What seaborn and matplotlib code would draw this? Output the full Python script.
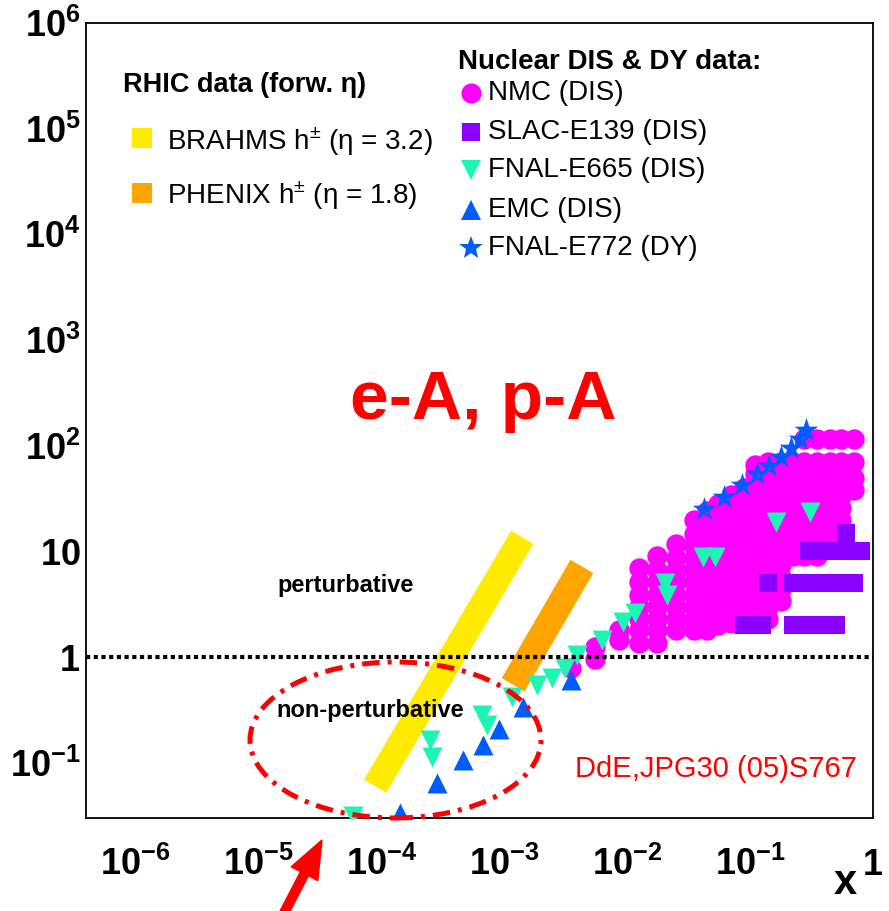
import numpy as np
import pandas as pd
import matplotlib
matplotlib.use("Agg")
import matplotlib.pyplot as plt
import seaborn as sns
from matplotlib import font_manager as fm
from matplotlib.patches import Ellipse, FancyArrow, Rectangle
from matplotlib.transforms import IdentityTransform
from matplotlib.ticker import FixedLocator, FixedFormatter, LogLocator, NullFormatter

# ---------------- data ----------------
# NMC (DIS): x bins and Q^2 values per bin
nmc_x = [0.0035, 0.0055, 0.0085, 0.0125, 0.0175, 0.025, 0.035, 0.045, 0.055,
         0.07, 0.09, 0.11, 0.14, 0.18, 0.225, 0.275, 0.35, 0.45, 0.55, 0.70]
nmc_q2 = [
    [0.78],
    [0.95, 1.25],
    [1.45, 1.8],
    [1.36, 1.8, 2.3, 3.0, 3.9, 5.1, 7.0],
    [1.36, 1.8, 2.3, 3.0, 3.9, 5.1, 6.7, 9.0],
    [1.8, 2.3, 3.0, 3.9, 5.1, 6.7, 8.7, 11.8],
    [1.8, 2.3, 3.0, 3.9, 5.1, 6.7, 8.7, 11.3, 14.7, 20],
    [1.8, 2.3, 3.0, 3.9, 5.1, 6.7, 8.7, 11.3, 14.7, 19, 24],
    [2.0, 2.6, 3.4, 4.4, 5.7, 7.4, 9.6, 12.5, 16, 21, 28],
    [2.1, 2.8, 3.6, 4.7, 6.1, 7.9, 10.3, 13.4, 17.4, 22.6, 29, 34],
    [2.2, 2.9, 3.8, 4.9, 6.4, 8.3, 10.8, 14, 18.2, 23.7, 31, 40],
    [2.3, 3.0, 3.9, 5.1, 6.7, 8.7, 11.3, 14.7, 19, 25, 32, 42, 54, 65],
    [2.3, 3.0, 3.9, 5.1, 6.7, 8.7, 11.3, 14.7, 19, 25, 32, 42, 54, 70],
    [3.4, 4.4, 5.7, 7.4, 9.6, 12.5, 16, 21, 28, 36, 47, 61, 70],
    [9, 11.7, 15, 20, 26, 34, 44, 57, 70],
    [9, 11.7, 15, 20, 26, 34, 44, 57, 70, 115],
    [9, 11.7, 15, 20, 26, 34, 44, 57, 70, 115],
    [12.8, 16.6, 21.6, 28, 36, 47, 61, 70, 115],
    [19.8, 25.7, 33.4, 43, 56, 70, 115],
    [38, 49, 70, 115],
]

# SLAC-E139 (DIS)
slac_x = [0.089, 0.125, 0.225, 0.275, 0.35, 0.42, 0.5,
          0.14, 0.225, 0.275, 0.35, 0.45, 0.55, 0.7,
          0.3, 0.35, 0.45, 0.55, 0.7, 0.8,
          0.6]
slac_q2 = [2, 2, 2, 2, 2, 2, 2,
           5, 5, 5, 5, 5, 5, 5,
           10, 10, 10, 10, 10, 10,
           15]

# FNAL-E665 (DIS)
e665_x = [5.9e-5, 2.49e-4, 2.58e-4, 6.59e-4, 7.24e-4, 1.16e-3, 1.85e-3, 2.45e-3,
          3.13e-3, 3.91e-3, 6.25e-3, 9.27e-3, 0.0116, 0.0203, 0.0211, 0.0415,
          0.0519, 0.163, 0.308]
e665_q2 = [0.031, 0.164, 0.113, 0.283, 0.227, 0.418, 0.543, 0.633,
           0.787, 1.04, 1.45, 2.14, 2.61, 5.01, 3.86, 8.83,
           8.83, 18.9, 23.5]

# EMC (DIS)
emc_x = [1.42e-4, 2.84e-4, 4.62e-4, 6.71e-4, 9.08e-4, 1.42e-3, 3.5e-3]
emc_q2 = [0.0334, 0.0643, 0.106, 0.147, 0.208, 0.336, 0.606]

# FNAL-E772 (DY)
e772_x = [0.0423, 0.0614, 0.0861, 0.114, 0.143, 0.179, 0.216, 0.255, 0.286]
e772_q2 = [25.1, 32.6, 42.4, 53.9, 64.1, 78.0, 94.9, 115, 140]

# RHIC bands (x, Q^2 end points)
brahms_x = [8.9e-5, 1.4e-3]
brahms_q2 = [0.06, 13.6]
phenix_x = [1.18e-3, 4.28e-3]
phenix_q2 = [0.547, 7.2]

x_ticks = [1e-6, 1e-5, 1e-4, 1e-3, 1e-2, 1e-1, 1]
x_ticklabels = [r"$\mathbf{10^{-6}}$", r"$\mathbf{10^{-5}}$", r"$\mathbf{10^{-4}}$",
                r"$\mathbf{10^{-3}}$", r"$\mathbf{10^{-2}}$", r"$\mathbf{10^{-1}}$",
                r"$\mathbf{1}$"]
y_ticks = [1e-1, 1, 10, 1e2, 1e3, 1e4, 1e5, 1e6]
y_ticklabels = [r"$\mathbf{10^{-1}}$", r"$\mathbf{1}$", r"$\mathbf{10}$",
                r"$\mathbf{10^{2}}$", r"$\mathbf{10^{3}}$", r"$\mathbf{10^{4}}$",
                r"$\mathbf{10^{5}}$", r"$\mathbf{10^{6}}$"]

# ---------------- colours ----------------
C_NMC = "#FF00FF"
C_SLAC = "#8C00FF"
C_E665 = "#1EF5B4"
C_BLUE = "#005CFF"
C_BRAHMS = "#FFEB00"
C_PHENIX = "#FFA500"

# ---------------- style ----------------
sns.set_style("white")
installed = {f.name for f in fm.fontManager.ttflist}
if "Liberation Sans Narrow" in installed:
    TICKFONT, TICKSIZE = "Liberation Sans Narrow", 31
else:
    TICKFONT, TICKSIZE = "Liberation Sans", 26

plt.rcParams["font.family"] = ["Liberation Sans", "DejaVu Sans"]
plt.rcParams["mathtext.fontset"] = "custom"
plt.rcParams["mathtext.rm"] = "Liberation Sans"
plt.rcParams["mathtext.bf"] = TICKFONT + ":bold"
plt.rcParams["mathtext.it"] = "Liberation Sans:italic"
for k in ["text.color", "axes.labelcolor", "xtick.color", "ytick.color",
          "xtick.labelcolor", "ytick.labelcolor", "axes.edgecolor"]:
    plt.rcParams[k] = "black"

W, H = 889, 911
fig = plt.figure(figsize=(W / 100, H / 100), dpi=100)
ax = fig.add_axes([86 / W, (H - 818) / H, 787 / W, 795 / H])
ax.set_xscale("log")
ax.set_yscale("log")
ax.set_xlim(3.95e-7, 1)
ax.set_ylim(0.03, 1e6)


def fp(px, py):
    return (px / W, 1 - py / H)


# bands
ax.plot(brahms_x, brahms_q2, color=C_BRAHMS, lw=18.6, solid_capstyle="butt", zorder=2)
ax.plot(phenix_x, phenix_q2, color=C_PHENIX, lw=19.0, solid_capstyle="butt", zorder=2)

# data
nmc_df = pd.DataFrame({
    "x": [x for x, ql in zip(nmc_x, nmc_q2) for _ in ql],
    "Q2": [q for ql in nmc_q2 for q in ql],
})
sns.scatterplot(data=nmc_df, x="x", y="Q2", marker="o", s=215, color=C_NMC,
                linewidth=0, ax=ax, zorder=3, legend=False)
sns.scatterplot(x=slac_x, y=slac_q2, marker="s", s=169, color=C_SLAC,
                linewidth=0, ax=ax, zorder=4, legend=False)
sns.scatterplot(x=e665_x, y=e665_q2, marker="v", s=207, color=C_E665,
                linewidth=0, ax=ax, zorder=5, legend=False)
sns.scatterplot(x=emc_x, y=emc_q2, marker="^", s=207, color=C_BLUE,
                linewidth=0, ax=ax, zorder=6, legend=False)
sns.scatterplot(x=e772_x, y=e772_q2, marker="*", s=320, color=C_BLUE,
                linewidth=0, ax=ax, zorder=7, legend=False)
ax.set_xlabel("")
ax.set_ylabel("")

# Q^2 = 1 GeV^2 line
ax.axhline(1, color="black", lw=3, linestyle=(0, (1, 0.85)), zorder=8)

# ticks
ax.xaxis.set_major_locator(FixedLocator(x_ticks))
ax.xaxis.set_major_formatter(FixedFormatter(x_ticklabels))
ax.xaxis.set_minor_locator(LogLocator(base=10, subs=np.arange(2, 10), numticks=40))
ax.xaxis.set_minor_formatter(NullFormatter())
ax.yaxis.set_major_locator(FixedLocator(y_ticks))
ax.yaxis.set_major_formatter(FixedFormatter(y_ticklabels))
ax.yaxis.set_minor_locator(LogLocator(base=10, subs=np.arange(2, 10), numticks=40))
ax.yaxis.set_minor_formatter(NullFormatter())
ax.tick_params(which="both", direction="in", top=False, right=False, width=1,
               color="black", labelcolor="black")
ax.tick_params(which="major", length=18, labelsize=TICKSIZE)
ax.tick_params(which="minor", length=9.5)
ax.tick_params(axis="x", which="major", pad=41)
ax.tick_params(axis="y", which="major", pad=4)
for t in ax.xaxis.get_major_ticks(len(x_ticks)):
    t.label1.set_verticalalignment("baseline")
for s in ax.spines.values():
    s.set_linewidth(1.3)
    s.set_color("black")

# axis label
fig.text(*fp(845, 883), "x", fontsize=TICKSIZE + 4, fontweight="bold", family=TICKFONT,
         ha="center", va="center")

# ellipse (dash-dot)
ell = Ellipse(((395.5 - 86) / 787, (818 - 740) / 795), 291 / 787, 156 / 795,
              transform=ax.transAxes, fill=False, edgecolor="red", lw=3.6,
              linestyle=(0, (3.5, 1.6, 0.8, 1.6)), zorder=9, clip_on=False)
ax.add_patch(ell)

# arrow
arr = FancyArrow(283, -4, 39, 75, width=9, head_width=30, head_length=38,
                 length_includes_head=True, color="red", transform=IdentityTransform())
fig.add_artist(arr)

# annotations
fig.text(*fp(350, 419), "e-A, p-A", fontsize=50, fontweight="bold", color="red",
         ha="left", va="baseline")
fig.text(*fp(277, 592), "perturbative", fontsize=17, fontweight="bold",
         ha="left", va="baseline", zorder=10)
fig.text(*fp(276, 717), "non-perturbative", fontsize=17, fontweight="bold",
         ha="left", va="baseline", zorder=10)
fig.text(*fp(575, 777), "DdE,JPG30 (05)S767", fontsize=21, color="red",
         ha="left", va="baseline")

# left legend (RHIC)
fig.text(*fp(123, 92), "RHIC data (forw. η)", fontsize=19.5, fontweight="bold",
         ha="left", va="baseline")
for (py, col, lab) in [(137.5, C_BRAHMS, "BRAHMS h$^{\\pm}$ (η = 3.2)"),
                       (192.5, C_PHENIX, "PHENIX h$^{\\pm}$ (η = 1.8)")]:
    fig.patches.append(Rectangle((132 / W, 1 - (py + 10) / H), 20 / W, 20 / H,
                                 transform=fig.transFigure, facecolor=col, edgecolor="none"))
    fig.text(*fp(167, py + 12), lab, fontsize=20, ha="left", va="baseline")

# right legend (nuclear DIS & DY)
fig.text(*fp(458, 69), "Nuclear DIS & DY data:", fontsize=20, fontweight="bold",
         ha="left", va="baseline")
entries = [(93, "o", 14.5, C_NMC, "NMC (DIS)"),
           (132, "s", 13.0, C_SLAC, "SLAC-E139 (DIS)"),
           (170, "v", 14.5, C_E665, "FNAL-E665 (DIS)"),
           (210, "^", 14.5, C_BLUE, "EMC (DIS)"),
           (248, "*", 18.0, C_BLUE, "FNAL-E772 (DY)")]
for py, mk, ms, col, lab in entries:
    ax.plot([471 / W], [1 - py / H], marker=mk, ms=ms, color=col, mew=0,
            transform=fig.transFigure, clip_on=False, linestyle="none")
    fig.text(*fp(488, py + 7), lab, fontsize=20, ha="left", va="baseline")

fig.savefig("out.png", dpi=100)
